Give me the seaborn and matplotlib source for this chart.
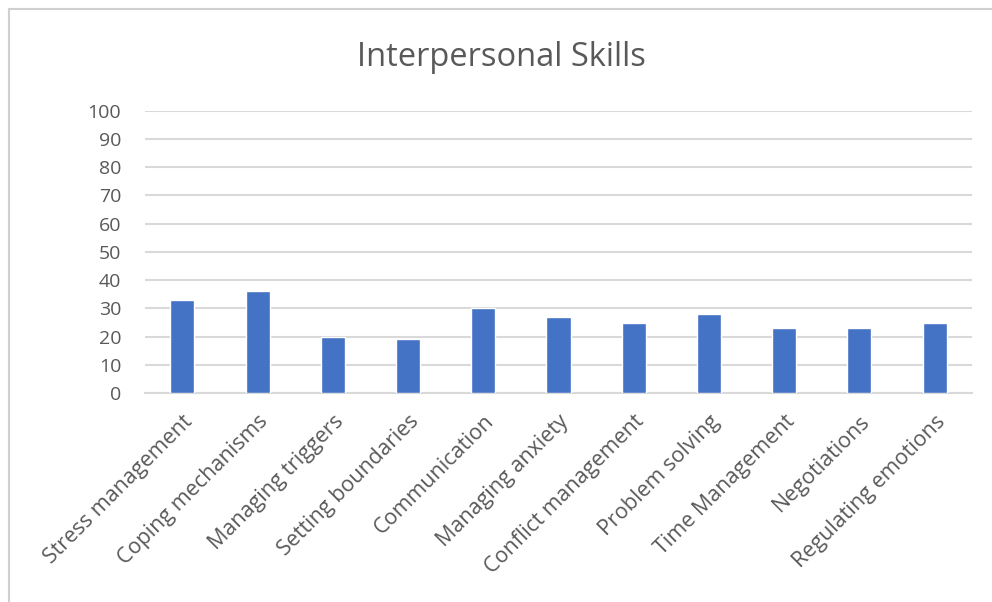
import matplotlib
matplotlib.use("Agg")
import matplotlib.pyplot as plt
import seaborn as sns
import pandas as pd

skills = [
    "Stress management", "Coping mechanisms", "Managing triggers",
    "Setting boundaries", "Communication", "Managing anxiety",
    "Conflict management", "Problem solving", "Time Management",
    "Negotiations", "Regulating emotions",
]
scores = [33, 36, 20, 19, 30, 27, 25, 28, 23, 23, 25]
y_ticks = [0, 10, 20, 30, 40, 50, 60, 70, 80, 90, 100]

sns.set_theme(style="white")
plt.rcParams["font.family"] = ["Open Sans", "DejaVu Sans"]

text_color = "#595959"
grid_color = "#D9D9D9"
bar_color = "#4472C4"

df = pd.DataFrame({"skill": skills, "score": scores})

fig = plt.figure(figsize=(9.92, 6.02), dpi=100)
fig.patch.set_facecolor("white")
ax = fig.add_axes([0.146, 0.347, 0.834, 0.469])

sns.barplot(data=df, x="skill", y="score", color=bar_color, width=0.32,
            saturation=1, ax=ax, zorder=3)

ax.set_ylim(0, 100)
ax.set_yticks(y_ticks)
ax.set_yticklabels([str(v) for v in y_ticks])
ax.set_xlim(-0.5, len(skills) - 0.5)
ax.yaxis.grid(True, color=grid_color, linewidth=1.5, zorder=0)
ax.set_axisbelow(True)

for side in ["top", "right", "left"]:
    ax.spines[side].set_visible(False)
ax.spines["bottom"].set_color(grid_color)
ax.spines["bottom"].set_linewidth(1.5)

ax.set_xlabel("")
ax.set_ylabel("")
ax.tick_params(axis="y", length=0, pad=17, labelsize=14, labelcolor=text_color)
ax.tick_params(axis="x", length=0, pad=13, labelsize=15.5, labelcolor=text_color)
for lbl in ax.get_xticklabels():
    lbl.set_rotation(45)
    lbl.set_ha("right")
    lbl.set_va("top")
    lbl.set_rotation_mode("anchor")

fig.text(0.505, 0.890, "Interpersonal Skills", ha="center", va="baseline",
         fontsize=23.5, color=text_color)

# outer chart frame (left and top edges)
fig.add_artist(plt.Line2D([0.0095, 0.0095], [0.0, 0.985], transform=fig.transFigure,
                          color="#D0D0D0", linewidth=1.5))
fig.add_artist(plt.Line2D([0.0095, 1.0], [0.985, 0.985], transform=fig.transFigure,
                          color="#D0D0D0", linewidth=1.5))

fig.savefig("out.png", dpi=100, facecolor="white")
